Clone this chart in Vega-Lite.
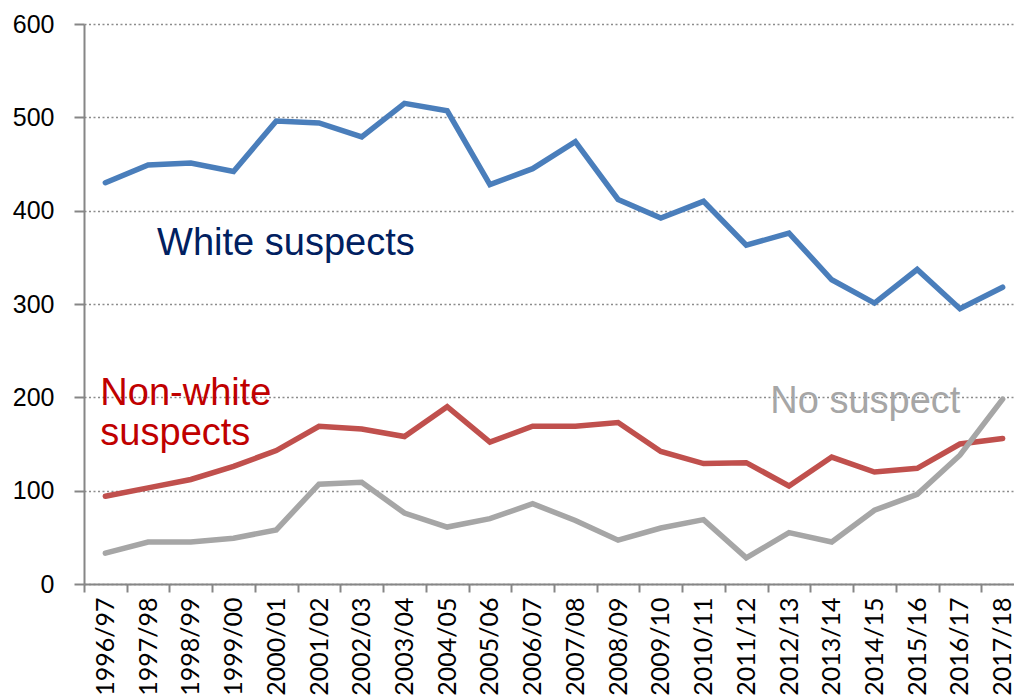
{
  "$schema": "https://vega.github.io/schema/vega-lite/v6.json",
  "autosize": {"type": "none"},
  "padding": {"left": 84, "top": 24, "right": 0, "bottom": 111},
  "width": 930,
  "height": 560,
  "background": "white",
  "config": {
    "view": {"stroke": null},
    "font": "Liberation Sans"
  },
  "datasets": {
    "series": [
      {"year": "1996/97", "series": "White", "value": 430},
      {"year": "1997/98", "series": "White", "value": 449},
      {"year": "1998/99", "series": "White", "value": 451},
      {"year": "1999/00", "series": "White", "value": 442},
      {"year": "2000/01", "series": "White", "value": 496},
      {"year": "2001/02", "series": "White", "value": 494},
      {"year": "2002/03", "series": "White", "value": 479},
      {"year": "2003/04", "series": "White", "value": 515},
      {"year": "2004/05", "series": "White", "value": 507},
      {"year": "2005/06", "series": "White", "value": 428},
      {"year": "2006/07", "series": "White", "value": 445},
      {"year": "2007/08", "series": "White", "value": 474},
      {"year": "2008/09", "series": "White", "value": 412},
      {"year": "2009/10", "series": "White", "value": 392},
      {"year": "2010/11", "series": "White", "value": 410},
      {"year": "2011/12", "series": "White", "value": 363},
      {"year": "2012/13", "series": "White", "value": 376},
      {"year": "2013/14", "series": "White", "value": 326},
      {"year": "2014/15", "series": "White", "value": 301},
      {"year": "2015/16", "series": "White", "value": 337},
      {"year": "2016/17", "series": "White", "value": 295},
      {"year": "2017/18", "series": "White", "value": 318},
      {"year": "1996/97", "series": "Non-white", "value": 94},
      {"year": "1997/98", "series": "Non-white", "value": 103},
      {"year": "1998/99", "series": "Non-white", "value": 112},
      {"year": "1999/00", "series": "Non-white", "value": 126},
      {"year": "2000/01", "series": "Non-white", "value": 143},
      {"year": "2001/02", "series": "Non-white", "value": 169},
      {"year": "2002/03", "series": "Non-white", "value": 166},
      {"year": "2003/04", "series": "Non-white", "value": 158},
      {"year": "2004/05", "series": "Non-white", "value": 190},
      {"year": "2005/06", "series": "Non-white", "value": 152},
      {"year": "2006/07", "series": "Non-white", "value": 169},
      {"year": "2007/08", "series": "Non-white", "value": 169},
      {"year": "2008/09", "series": "Non-white", "value": 173},
      {"year": "2009/10", "series": "Non-white", "value": 142},
      {"year": "2010/11", "series": "Non-white", "value": 129},
      {"year": "2011/12", "series": "Non-white", "value": 130},
      {"year": "2012/13", "series": "Non-white", "value": 105},
      {"year": "2013/14", "series": "Non-white", "value": 136},
      {"year": "2014/15", "series": "Non-white", "value": 120},
      {"year": "2015/16", "series": "Non-white", "value": 124},
      {"year": "2016/17", "series": "Non-white", "value": 150},
      {"year": "2017/18", "series": "Non-white", "value": 156},
      {"year": "1996/97", "series": "No suspect", "value": 33},
      {"year": "1997/98", "series": "No suspect", "value": 45},
      {"year": "1998/99", "series": "No suspect", "value": 45},
      {"year": "1999/00", "series": "No suspect", "value": 49},
      {"year": "2000/01", "series": "No suspect", "value": 58},
      {"year": "2001/02", "series": "No suspect", "value": 107},
      {"year": "2002/03", "series": "No suspect", "value": 109},
      {"year": "2003/04", "series": "No suspect", "value": 76},
      {"year": "2004/05", "series": "No suspect", "value": 61},
      {"year": "2005/06", "series": "No suspect", "value": 70},
      {"year": "2006/07", "series": "No suspect", "value": 86},
      {"year": "2007/08", "series": "No suspect", "value": 68},
      {"year": "2008/09", "series": "No suspect", "value": 47},
      {"year": "2009/10", "series": "No suspect", "value": 60},
      {"year": "2010/11", "series": "No suspect", "value": 69},
      {"year": "2011/12", "series": "No suspect", "value": 28},
      {"year": "2012/13", "series": "No suspect", "value": 55},
      {"year": "2013/14", "series": "No suspect", "value": 45},
      {"year": "2014/15", "series": "No suspect", "value": 79},
      {"year": "2015/16", "series": "No suspect", "value": 96},
      {"year": "2016/17", "series": "No suspect", "value": 138},
      {"year": "2017/18", "series": "No suspect", "value": 198}
    ],
    "labels": [
      {"name": "White", "text": "White suspects", "year": "1997/98", "value": 352},
      {"name": "Non-white", "text": "Non-white", "year": "1996/97", "value": 192},
      {"name": "Non-white", "text": "suspects", "year": "1996/97", "value": 149},
      {"name": "No suspect", "text": "No suspect", "year": "2011/12", "value": 183}
    ]
  },
  "encoding": {
    "x": {
      "field": "year",
      "type": "ordinal",
      "sort": null,
      "scale": {"type": "band", "range": [0, 940], "paddingInner": 0, "paddingOuter": 0},
      "axis": {
        "title": null,
        "tickBand": "extent",
        "grid": false,
        "labelAngle": 270,
        "labelAlign": "right",
        "labelBaseline": "middle",
        "labelFont": "Lato",
        "labelFontSize": 25,
        "labelColor": "#000000",
        "labelPadding": 5,
        "tickSize": 8,
        "tickColor": "#868686",
        "tickWidth": 2,
        "domainColor": "#868686",
        "domainWidth": 2
      }
    },
    "y": {
      "field": "value",
      "type": "quantitative",
      "scale": {"domain": [0, 600]},
      "axis": {
        "title": null,
        "values": [0, 100, 200, 300, 400, 500, 600],
        "labelFontSize": 25,
        "labelColor": "#000000",
        "labelPadding": 20,
        "tickSize": 10,
        "tickColor": "#868686",
        "tickWidth": 2,
        "domainColor": "#868686",
        "domainWidth": 2,
        "grid": true,
        "gridColor": "#8c8c8c",
        "gridDash": [2, 2.5],
        "gridWidth": 1.5
      }
    }
  },
  "layer": [
    {
      "data": {"name": "series"},
      "mark": {"type": "line", "strokeWidth": 5.5, "strokeCap": "round"},
      "encoding": {
        "color": {
          "field": "series",
          "type": "nominal",
          "scale": {"domain": ["White", "Non-white", "No suspect"], "range": ["#4a7ebb", "#c0504d", "#a6a6a6"]},
          "legend": null
        }
      }
    },
    {
      "data": {"name": "labels"},
      "transform": [{"filter": "datum.name === 'White'"}],
      "mark": {"type": "text", "align": "left", "baseline": "alphabetic", "fontSize": 38, "color": "#002060", "dx": 9},
      "encoding": {"text": {"field": "text"}}
    },
    {
      "data": {"name": "labels"},
      "transform": [{"filter": "datum.name === 'Non-white'"}],
      "mark": {"type": "text", "align": "left", "baseline": "alphabetic", "fontSize": 38, "color": "#c00000", "dx": -5},
      "encoding": {"text": {"field": "text"}}
    },
    {
      "data": {"name": "labels"},
      "transform": [{"filter": "datum.name === 'No suspect'"}],
      "mark": {"type": "text", "align": "left", "baseline": "alphabetic", "fontSize": 38, "color": "#a6a6a6", "dx": 24},
      "encoding": {"text": {"field": "text"}}
    }
  ]
}
